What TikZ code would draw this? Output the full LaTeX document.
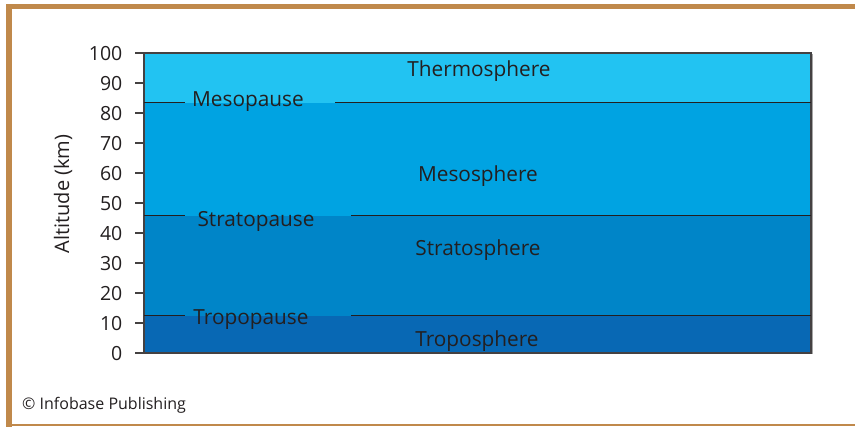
\documentclass[tikz,border=0pt]{standalone}
\usepackage{fontspec}
\setmainfont{Open Sans}
\definecolor{frametan}{RGB}{192,137,75}
\definecolor{thermo}{RGB}{34,195,242}
\definecolor{meso}{RGB}{0,163,226}
\definecolor{strato}{RGB}{0,133,200}
\definecolor{tropo}{RGB}{8,104,180}
\definecolor{ink}{RGB}{35,31,32}
\tikzset{
  lbl/.style={font=\fontsize{20.8}{24}\selectfont, text=ink, inner sep=0pt},
  ticklbl/.style={font=\fontsize{19.5}{22}\selectfont, text=ink, anchor=east, inner sep=0pt},
  tickline/.style={draw=ink!85, line width=1.4pt},
  bound/.style={draw=ink, line width=1pt},
}
\begin{document}
\begin{tikzpicture}[x=1pt,y=-1pt]
\useasboundingbox (0,0) rectangle (855,427);
\fill[white] (0,0) rectangle (855,427);
% frame
\fill[frametan] (6,4) rectangle (855,9.5);
\fill[frametan] (6,4) rectangle (11.5,427);
\fill[frametan] (11.5,424) rectangle (855,426.5);
% layers
\fill[thermo] (144,53) rectangle (811,103);
\fill[meso] (144,103) rectangle (811,216);
\fill[strato] (144,216) rectangle (811,316);
\fill[tropo] (144,316) rectangle (811,353);
% shadow and outline
\draw[gray!70, line width=1.2pt] (812.5,54) -- (812.5,354.5);
\draw[ink!85, line width=1.4pt] (144,53) rectangle (811,353);
% boundaries
\coordinate (m1) at (144,103); \coordinate (m2) at (185,103);
\coordinate (m3) at (335,103); \coordinate (m4) at (811,103);
\coordinate (s1) at (144,216); \coordinate (s2) at (185,216);
\coordinate (s3) at (351,216); \coordinate (s4) at (811,216);
\coordinate (t1) at (144,316); \coordinate (t2) at (185,316);
\coordinate (t3) at (351,316); \coordinate (t4) at (811,316);
\draw[bound] (m1) -- (m2) (m3) -- (m4);
\draw[bound] (s1) -- (s2) (s3) -- (s4);
\draw[bound] (t1) -- (t2) (t3) -- (t4);
% ticks
\foreach \v/\n in {0/t0,10/t10,20/t20,30/t30,40/t40,50/t50,60/t60,70/t70,80/t80,90/t90,100/t100}{
  \coordinate (\n a) at (135,353-3*\v);
  \coordinate (\n b) at (144,353-3*\v);
  \draw[tickline] (\n a) -- (\n b);
  \node[ticklbl] (\n) at (122.5,354-3*\v) {\v};
}
% labels
\node[lbl] (thermo) at (479,71) {Thermosphere};
\node[lbl] (meso) at (478,176) {Mesosphere};
\node[lbl] (strato) at (478,250) {Stratosphere};
\node[lbl] (tropo) at (477,341) {Troposphere};
\node[lbl] (mesop) at (248,102) {Mesopause};
\node[lbl] (stratop) at (256,221) {Stratopause};
\node[lbl] (tropop) at (251,320) {Tropopause};
\node[lbl, font=\fontsize{20}{24}\selectfont, rotate=90] (axis) at (63,194) {Altitude (km)};
\node[font=\fontsize{16}{19}\selectfont, text=ink, anchor=west, inner sep=0pt] (copy) at (22,405) {© Infobase Publishing};
\end{tikzpicture}
\end{document}
